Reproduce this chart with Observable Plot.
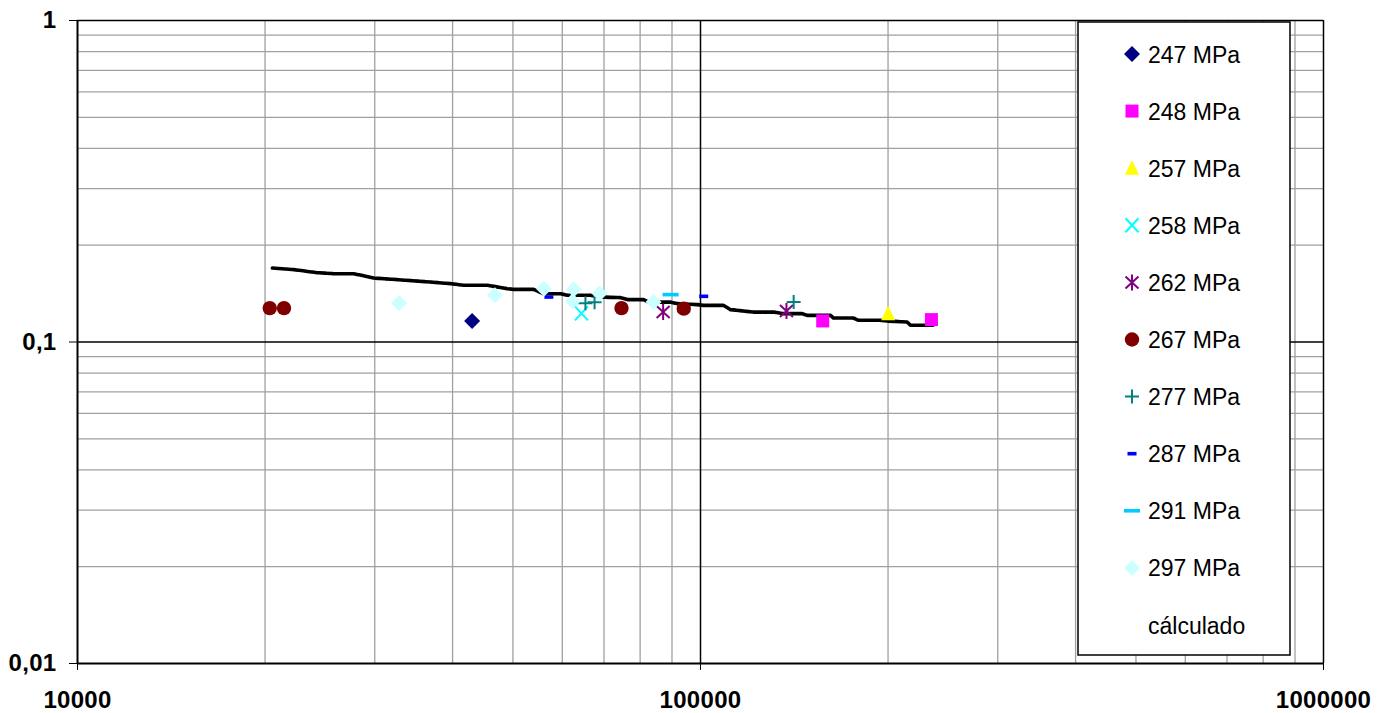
<!DOCTYPE html>
<html><head><meta charset="utf-8">
<script src="https://cdn.jsdelivr.net/npm/d3@7"></script>
<script src="https://cdn.jsdelivr.net/npm/@observablehq/plot@0.6"></script>
<style>
body{margin:0;background:#fff;}
#chart{position:relative;width:1388px;height:713px;}
</style>
</head><body><div id="chart"></div>
<script>
// Axis ticks and labels
const xTicks = [10000, 100000, 1000000];
const xTickLabels = ["10000", "100000", "1000000"];
const yTicks = [0.01, 0.1, 1];
const yTickLabels = ["0,01", "0,1", "1"];

// Series (cycles, stress amplitude ratio)
const mpa247 = [[43000, 0.1162]];
const mpa248 = [[157100, 0.1163], [234800, 0.1174]];
const mpa257 = [[200100, 0.1225]];
const mpa258 = [[64400, 0.1227]];
const mpa262 = [[87100, 0.1239], [137400, 0.1248]];
const mpa267 = [[20350, 0.1275], [21450, 0.1275], [74680, 0.1275], [94000, 0.1270]];
const mpa277 = [[65360, 0.1319], [67600, 0.1329], [141100, 0.1331]];
const mpa287 = [[57100, 0.1380], [101200, 0.1387]];
const mpa291 = [[89530, 0.1404]];
const mpa297 = [[32810, 0.1322], [46770, 0.1397], [56070, 0.1465], [62610, 0.1458], [62320, 0.1338], [68870, 0.1416], [84060, 0.1331]];

// Calculated curve
const calcCycles = [20550, 22240, 24270, 25770, 27760, 29880, 32620, 36880, 39700, 41670, 45480, 48960, 50120, 53960, 55990, 59630, 61180, 66590, 69110, 74400, 76290, 81010, 82530, 89530, 91750, 98800, 101100, 108900, 111700, 121600, 131000, 135900, 145600, 148300, 161700, 163500, 176000, 179300, 194500, 199400, 214600, 217300, 236800];
const calcValues = [0.1698, 0.1679, 0.1643, 0.1631, 0.1631, 0.1581, 0.1563, 0.1536, 0.1519, 0.1501, 0.1501, 0.1465, 0.1458, 0.1458, 0.1413, 0.1413, 0.1397, 0.1397, 0.1380, 0.1374, 0.1355, 0.1355, 0.1331, 0.1331, 0.1316, 0.1307, 0.1300, 0.1300, 0.1261, 0.1239, 0.1239, 0.1225, 0.1225, 0.1210, 0.1210, 0.1187, 0.1187, 0.1168, 0.1168, 0.1162, 0.1154, 0.1127, 0.1127];

const seriesNames = ["247 MPa", "248 MPa", "257 MPa", "258 MPa", "262 MPa", "267 MPa", "277 MPa", "287 MPa", "291 MPa", "297 MPa"];
const calcName = "cálculado";

// Marker shapes (pixel geometry)
const sym = {
  diamond: {draw(c){c.moveTo(0,-8);c.lineTo(8,0);c.lineTo(0,8);c.lineTo(-8,0);c.closePath();}},
  square: {draw(c){c.rect(-6.5,-6.5,13,13);}},
  triangle: {draw(c){c.moveTo(0,-8);c.lineTo(7,6.5);c.lineTo(-7,6.5);c.closePath();}},
  times: {draw(c){c.moveTo(-6.5,-7);c.lineTo(6.5,7);c.moveTo(6.5,-7);c.lineTo(-6.5,7);}},
  asterisk: {draw(c){c.moveTo(-6.5,-6);c.lineTo(6.5,6);c.moveTo(6.5,-6);c.lineTo(-6.5,6);c.moveTo(0,-8);c.lineTo(0,8);}},
  circle: {draw(c){c.moveTo(7.2,0);c.arc(0,0,7.2,0,2*Math.PI);}},
  plus: {draw(c){c.moveTo(-7,0);c.lineTo(7,0);c.moveTo(0,-7);c.lineTo(0,7);}},
  shortDash: {draw(c){c.rect(-4.5,-1.8,9,3.6);}},
  longDash: {draw(c){c.rect(-8,-1.8,16,3.6);}}
};

const series = [
  {data: mpa247, symbol: sym.diamond, fill: "#000080", stroke: "none"},
  {data: mpa248, symbol: sym.square, fill: "#FF00FF", stroke: "none"},
  {data: mpa257, symbol: sym.triangle, fill: "#FFFF00", stroke: "none"},
  {data: mpa258, symbol: sym.times, fill: "none", stroke: "#00FFFF"},
  {data: mpa262, symbol: sym.asterisk, fill: "none", stroke: "#800080"},
  {data: mpa267, symbol: sym.circle, fill: "#800000", stroke: "none"},
  {data: mpa277, symbol: sym.plus, fill: "none", stroke: "#008080"},
  {data: mpa287, symbol: sym.shortDash, fill: "#0000FF", stroke: "none"},
  {data: mpa291, symbol: sym.longDash, fill: "#00CCFF", stroke: "none"},
  {data: mpa297, symbol: sym.diamond, fill: "#CCFFFF", stroke: "none"}
].map((s, i) => ({...s, name: seriesNames[i]}));

const calcData = calcCycles.map((x, i) => ({x, y: calcValues[i]}));

// Grid values
const minorMult = [2,3,4,5,6,7,8,9];
const xMinor = [10000, 100000].flatMap(d => minorMult.map(m => d * m));
const yMinor = [0.01, 0.1].flatMap(d => minorMult.map(m => d * m));

const lookupX = d => xTickLabels[xTicks.findIndex(t => Math.abs(t - d) / t < 1e-9)];
const lookupY = d => yTickLabels[yTicks.findIndex(t => Math.abs(t - d) / t < 1e-9)];

const chart = Plot.plot({
  width: 1388,
  height: 713,
  marginLeft: 77,
  marginRight: 65,
  marginTop: 20,
  marginBottom: 50,
  style: {fontFamily: "'Liberation Sans', Arial, sans-serif", fontSize: "24px", fontWeight: "bold", color: "#000", background: "#fff", letterSpacing: "0.3px"},
  x: {type: "log", domain: [10000, 1000000], label: null},
  y: {type: "log", domain: [0.01, 1], label: null},
  marks: [
    Plot.ruleX(xMinor, {stroke: "#a0a0a0", strokeWidth: 1.3}),
    Plot.ruleY(yMinor, {stroke: "#a0a0a0", strokeWidth: 1.3}),
    Plot.ruleX([xTicks[1], xTicks[2]], {stroke: "#000", strokeWidth: 1.5}),
    Plot.ruleY([yTicks[1], yTicks[2]], {stroke: "#000", strokeWidth: 1.5}),
    Plot.ruleX([xTicks[0]], {stroke: "#000", strokeWidth: 2}),
    Plot.ruleY([yTicks[0]], {stroke: "#000", strokeWidth: 2}),
    Plot.line(calcData, {x: "x", y: "y", stroke: "#000", strokeWidth: 3.6, strokeDasharray: "5.8,0.9"}),
    ...series.map(s => Plot.dot(s.data, {
      x: d => d[0], y: d => d[1], symbol: s.symbol, r: 5,
      fill: s.fill, stroke: s.stroke, strokeWidth: 2
    })),
    Plot.axisX({ticks: xTicks, tickFormat: lookupX, tickSize: 7, tickPadding: 20, stroke: "#000"}),
    Plot.axisY({ticks: yTicks, tickFormat: lookupY, tickSize: 8, tickPadding: 13, stroke: "#000"})
  ]
});

document.getElementById("chart").appendChild(chart);

// Legend box drawn inside the plot area
const svg = d3.select(chart);
const lg = svg.append("g").attr("class", "legend");
lg.append("rect").attr("x", 1078).attr("y", 22).attr("width", 212).attr("height", 633)
  .attr("fill", "#fff").attr("stroke", "#000").attr("stroke-width", 1.5);
const entries = [...series, {name: calcName, symbol: null}];
entries.forEach((s, i) => {
  const cy = 54 + i * 57.1;
  if (s.symbol) {
    const p = d3.path();
    s.symbol.draw(p);
    lg.append("path").attr("d", p.toString()).attr("transform", `translate(1132,${cy})`)
      .attr("fill", s.fill).attr("stroke", s.stroke).attr("stroke-width", 2);
  }
  lg.append("text").attr("x", 1148).attr("y", cy + 8.5).text(s.name)
    .attr("text-anchor", "start")
    .attr("font-size", 23).attr("font-weight", "normal").attr("letter-spacing", "0px").attr("fill", "#000");
});
</script>
</body></html>
